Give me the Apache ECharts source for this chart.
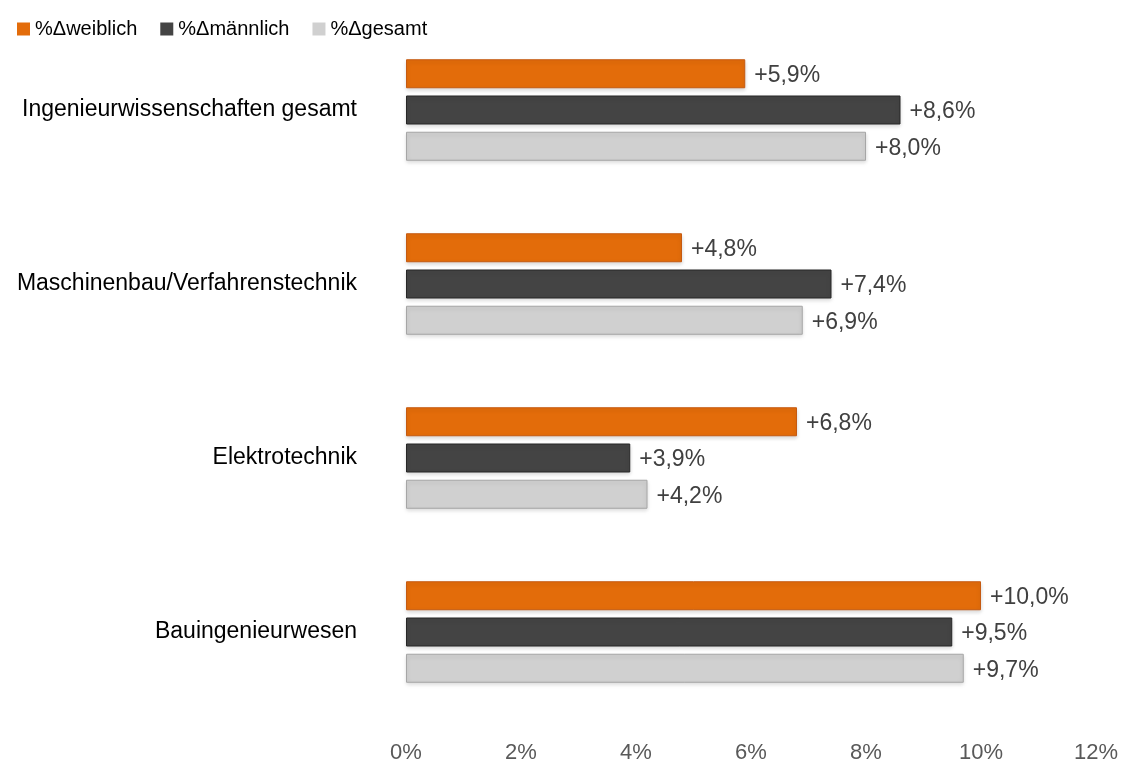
<!DOCTYPE html>
<html>
<head>
<meta charset="utf-8">
<script src="https://cdn.jsdelivr.net/npm/echarts@6/dist/echarts.min.js"></script>
<style>
  html, body { margin: 0; padding: 0; background: #fff; }
  #chart { width: 1124px; height: 765px; }
</style>
</head>
<body>
<div id="chart"></div>
<script>
// Kategorien von oben nach unten
const categories = ['Ingenieurwissenschaften gesamt', 'Maschinenbau/Verfahrenstechnik', 'Elektrotechnik', 'Bauingenieurwesen']
const seriesNames = ['%\u0394weiblich', '%\u0394männlich', '%\u0394gesamt']
const weiblich = [5.9, 4.8, 6.8, 10.0]
const maennlich = [8.6, 7.4, 3.9, 9.5]
const gesamt = [8.0, 6.9, 4.2, 9.7]

const colors = ['#E36C0A', '#444444', '#D0D0D0']
const borders = ['#C55A11', '#262626', '#A6A6A6']

const fontFam = 'Liberation Sans, Arial, sans-serif'

// Prozentformat mit Komma
function fmtLabel(v) {
  return '+' + v.toFixed(1).replace('.', ',') + '%'
}

var myChart = echarts.init(document.getElementById('chart'))

function makeSeries(name, data, i) {
  return {
    name: name,
    type: 'bar',
    data: data,
    barWidth: 29,
    barGap: '25%',
    itemStyle: {
      color: colors[i],
      borderColor: borders[i],
      borderWidth: 1,
      shadowColor: 'rgba(0,0,0,0.15)',
      shadowBlur: 4,
      shadowOffsetY: 2
    },
    label: {
      show: true,
      position: 'right',
      distance: 9,
      offset: [0, 2],
      color: '#404040',
      fontSize: 23,
      fontFamily: fontFam,
      formatter: p => fmtLabel(p.value)
    }
  }
}

myChart.setOption({
  animation: false,
  legend: {
    left: 12,
    top: 14,
    itemWidth: 13,
    itemHeight: 13,
    itemGap: 23,
    icon: 'rect',
    itemStyle: { borderWidth: 0, shadowBlur: 0, shadowOffsetY: 0 },
    textStyle: { fontSize: 20, color: '#000', fontFamily: fontFam },
    data: seriesNames
  },
  grid: {
    left: 406,
    right: 28,
    top: 23,
    bottom: 46,
    containLabel: false
  },
  xAxis: {
    type: 'value',
    min: 0,
    max: 12,
    interval: 2,
    splitLine: { show: false },
    axisLine: { show: false },
    axisTick: { show: false },
    axisLabel: {
      color: '#595959',
      fontSize: 22,
      fontFamily: fontFam,
      margin: 23,
      formatter: v => v + '%'
    }
  },
  yAxis: {
    type: 'category',
    inverse: true,
    data: categories,
    axisLine: { show: false },
    axisTick: { show: false },
    axisLabel: {
      color: '#000',
      fontSize: 23,
      fontFamily: fontFam,
      margin: 49
    }
  },
  series: [
    makeSeries(seriesNames[0], weiblich, 0),
    makeSeries(seriesNames[1], maennlich, 1),
    makeSeries(seriesNames[2], gesamt, 2)
  ]
})
</script>
</body>
</html>
